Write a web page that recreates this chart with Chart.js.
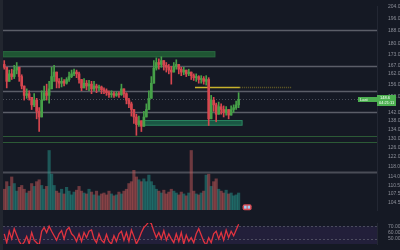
<!DOCTYPE html>
<html>
<head>
<meta charset="utf-8">
<script src="https://cdn.jsdelivr.net/npm/chart.js@4.4.0/dist/chart.umd.min.js"></script>
<style>
  html, body { margin: 0; padding: 0; background: #151924; width: 400px; height: 250px; overflow: hidden; }
  #priceChart { position: absolute; left: 0; top: 0; }
  #rsiChart { position: absolute; left: 0; top: 217px; }
  #strip { position: absolute; left: 0; top: 0; width: 3px; height: 250px; background: #22262f; }
</style>
</head>
<body>
<canvas id="priceChart" width="400" height="216"></canvas>
<canvas id="rsiChart" width="400" height="33"></canvas>
<div id="strip"></div>
<script>
// price data
var firstOpen = 167.4;
var closes = [165.8,158.0,162.1,160.6,164.2,165.8,160.6,155.5,150.6,151.5,
  149.6,145.8,148.2,142.6,139.9,148.2,152.0,150.6,154.0,160.6,
  163.1,158.0,157.0,158.0,157.0,159.0,160.6,162.1,163.1,162.1,
  159.0,154.5,157.0,155.5,156.5,154.0,155.5,154.5,155.0,153.5,
  153.0,152.0,151.0,151.5,150.6,151.5,151.0,154.0,151.5,148.2,
  146.3,143.5,139.9,136.3,138.1,135.5,139.9,143.5,149.1,157.0,
  165.3,168.5,167.4,169.6,166.9,165.8,164.2,163.1,166.3,167.4,
  164.7,163.1,164.2,162.1,163.1,161.1,160.0,160.6,159.0,159.5,
  158.0,159.0,139.0,148.2,145.8,141.2,144.9,143.5,142.1,143.5,
  140.8,143.5,144.4,145.8,148.6];
var highs = [169.6,164.2,164.2,164.7,166.9,168.5,164.2,161.6,155.5,154.0,
  153.0,149.1,151.5,149.1,144.4,153.0,155.5,156.5,158.0,165.8,
  166.9,163.1,159.5,160.0,159.0,160.0,163.1,164.2,164.7,164.2,
  163.1,159.0,159.5,158.5,158.5,158.0,158.0,156.5,156.0,155.5,
  154.5,154.0,153.0,153.0,152.5,152.5,152.5,156.5,154.0,152.0,
  149.1,147.2,143.5,141.2,140.3,138.1,142.6,146.3,153.0,160.6,
  169.6,171.2,170.7,171.8,169.6,168.5,167.4,166.3,168.5,170.1,
  167.4,165.8,165.8,164.2,164.7,163.1,162.1,162.1,161.1,161.1,
  160.6,161.1,160.0,150.6,149.6,146.7,147.2,146.3,145.3,144.9,
  143.5,145.3,145.8,147.7,152.0];
var lows = [164.7,154.5,158.0,159.0,159.5,162.1,158.0,154.0,148.2,149.1,
  148.2,143.5,144.9,139.0,133.1,143.5,149.1,148.2,146.7,155.5,
  158.0,154.5,154.5,155.0,155.5,156.5,158.0,160.0,161.1,160.0,
  157.0,153.0,154.5,153.5,153.0,151.5,153.0,152.0,153.0,151.5,
  151.5,150.6,149.6,149.6,149.6,150.1,149.6,150.6,149.6,146.3,
  144.4,140.3,136.8,131.4,135.5,133.1,136.3,139.9,143.5,152.0,
  160.6,164.2,164.7,165.8,164.2,163.1,162.1,156.5,163.1,164.7,
  162.1,161.1,161.6,160.6,161.1,159.0,158.5,158.0,157.0,157.0,
  156.5,156.0,135.9,143.5,142.6,137.6,142.1,141.2,139.9,140.8,
  139.0,141.2,142.1,143.5,144.4];
// volume in thousands
var volumes = [220,300,250,350,280,200,240,260,220,180,
  200,280,250,300,320,260,220,250,630,380,
  260,200,180,220,170,240,200,160,190,210,
  250,200,180,170,220,190,160,200,150,170,
  180,160,200,170,150,160,190,170,200,220,
  280,300,420,350,320,300,330,300,370,300,
  260,220,200,180,210,170,190,220,200,180,
  160,190,170,150,180,630,200,170,160,180,
  200,370,380,250,300,330,220,200,180,210,
  170,180,150,160,180];
var rsi = [58,44,62,50,66,56,46,40,45,54,
  42,60,48,44,40,62,68,60,70,62,
  55,48,58,63,50,64,68,58,54,46,
  58,46,60,52,62,64,50,44,58,48,
  44,57,46,42,55,46,58,62,48,60,
  46,64,54,42,50,60,68,72,77,74,
  62,52,60,50,63,48,58,50,44,58,
  46,60,42,56,46,52,44,58,66,56,
  46,40,52,44,58,62,50,60,48,64,
  52,62,55,64,73];
var priceTicks = [204, 196, 188, 180, 173, 167, 162, 156, 150, 142, 138, 134, 130, 126, 122, 118, 114, 110.5, 107.5, 104.5];
var rsiTicks = [70, 60, 50];
var slotCount = 150;

// drawn levels (price) and zones
var grayLevels = [188.0, 166.3, 153.0, 142.1];
var volLevel = 116.0;
var greenLevels = [131.3, 128.4];
var upperZone = [171.8, 174.9];
var lowerZone = [136.0, 138.2];
var yellowLevel = 155.0;

var labels = [];
for (var s = 0; s < slotCount; s++) labels.push(String(s));

var opens = [firstOpen].concat(closes.slice(0, -1));
var upColor = '#46a048', downColor = '#d6464f';
var candleColors = [], volColors = [], wickData = [], bodyData = [];
for (var i = 0; i < closes.length; i++) {
  var up = closes[i] >= opens[i];
  candleColors.push(up ? upColor : downColor);
  volColors.push(up ? 'rgba(38,150,140,0.5)' : 'rgba(200,90,90,0.5)');
  wickData.push([Math.min(lows[i], opens[i], closes[i]), Math.max(highs[i], opens[i], closes[i])]);
  bodyData.push([opens[i], closes[i]]);
}

var levelsPlugin = {
  id: 'levels',
  beforeDatasetsDraw: function (chart) {
    var ctx = chart.ctx, a = chart.chartArea, x = chart.scales.x, y = chart.scales.y;
    ctx.save();
    function hline(p, color, w, dash, x0, x1) {
      var py = Math.round(y.getPixelForValue(p)) + 0.5;
      ctx.strokeStyle = color; ctx.lineWidth = w; ctx.setLineDash(dash || []);
      ctx.beginPath(); ctx.moveTo(x0 == null ? a.left : x0, py); ctx.lineTo(x1 == null ? a.right : x1, py); ctx.stroke();
    }
    grayLevels.forEach(function (p) { hline(p, '#5b5e68', 1.3); });
    hline(volLevel, '#4a4d57', 2);
    greenLevels.forEach(function (p) { hline(p, '#2c5a36', 1); });
    hline(closes[closes.length - 1], 'rgba(110,113,125,0.6)', 1, [1, 2]);

    // zones
    function zone(z, s0, s1, fill, stroke) {
      var x0 = x.getPixelForValue(s0), x1 = x.getPixelForValue(s1);
      var y0 = y.getPixelForValue(z[1]), y1 = y.getPixelForValue(z[0]);
      ctx.setLineDash([]);
      ctx.fillStyle = fill; ctx.fillRect(x0, y0, x1 - x0, y1 - y0);
      ctx.strokeStyle = stroke; ctx.lineWidth = 1; ctx.strokeRect(x0, y0, x1 - x0, y1 - y0);
    }
    zone(upperZone, -0.5, 84.5, '#1f5533', '#2a6a40');
    zone(lowerZone, 55.6, 95.4, '#1a5744', '#2b8660');

    // yellow level
    hline(yellowLevel, '#c8b22c', 1.5, [], x.getPixelForValue(76.5), x.getPixelForValue(94.5));
    hline(yellowLevel, 'rgba(200,178,44,0.45)', 1.5, [1, 1], x.getPixelForValue(94.5), x.getPixelForValue(115.4));
    ctx.restore();
  },
  afterDraw: function (chart) {
    var ctx = chart.ctx, a = chart.chartArea, x = chart.scales.x, y = chart.scales.y, v = chart.scales.v;
    ctx.save();
    var last = closes[closes.length - 1];
    var py = Math.round(y.getPixelForValue(last));
    ctx.fillStyle = '#4caf50';
    ctx.fillRect(358, py - 2, a.right - 358, 5);
    ctx.fillRect(a.right, py - 4, 19, 11);
    ctx.fillStyle = '#ffffff';
    ctx.font = '4px "Liberation Sans"';
    ctx.textBaseline = 'middle';
    ctx.fillText('Last', 360, py + 0.5);
    ctx.fillText(last.toFixed(1), a.right + 3, py - 1);
    ctx.fillText('04:21:11', a.right + 2, py + 4);
    // volume marker
    var mx = x.getPixelForValue(95.6), my = v.getPixelForValue(30);
    ctx.fillStyle = '#d84a52';
    ctx.beginPath(); ctx.roundRect(mx, my - 3, 9, 6, 2); ctx.fill();
    ctx.fillStyle = '#9fd0f5';
    ctx.fillRect(mx + 1.5, my - 1.5, 2.5, 3);
    ctx.fillRect(mx + 5, my - 1.5, 2.5, 3);
    ctx.restore();
  }
};

new Chart(document.getElementById('priceChart'), {
  type: 'bar',
  data: {
    labels: labels,
    datasets: [
      { label: 'Body', data: bodyData, yAxisID: 'y', backgroundColor: candleColors, barThickness: 2, minBarLength: 1, grouped: false, order: 1 },
      { label: 'Wick', data: wickData, yAxisID: 'y', backgroundColor: candleColors, barThickness: 1, grouped: false, order: 2 },
      { label: 'Volume', data: volumes, yAxisID: 'v', backgroundColor: volColors, barThickness: 2.5, grouped: false, order: 3 }
    ]
  },
  options: {
    responsive: false,
    animation: false,
    devicePixelRatio: 1,
    layout: { padding: { left: 3, right: 0, top: 0, bottom: 0 } },
    plugins: { legend: { display: false }, tooltip: { enabled: false } },
    scales: {
      x: { type: 'category', display: false, offset: true, grid: { display: false } },
      y: {
        type: 'logarithmic', position: 'right', min: 101.8, max: 204.4,
        afterBuildTicks: function (s) { s.ticks = priceTicks.map(function (t) { return { value: t }; }); },
        afterFit: function (s) { s.width = 23; },
        grid: { display: false },
        border: { display: true, color: '#232733' },
        ticks: { autoSkip: false, color: '#8c8f99', padding: 3, font: { size: 5, family: 'Liberation Sans' },
          callback: function (t) { return Number(t).toFixed(1); } }
      },
      v: { type: 'linear', display: false, min: 0, max: 2160 }
    }
  },
  plugins: [levelsPlugin]
});

var rsiPlugin = {
  id: 'rsiBand',
  beforeDatasetsDraw: function (chart) {
    var ctx = chart.ctx, a = chart.chartArea, y = chart.scales.y;
    ctx.save();
    var y0 = y.getPixelForValue(70), y1 = Math.min(a.bottom, y.getPixelForValue(30));
    ctx.fillStyle = '#221f3a';
    ctx.fillRect(a.left, y0, a.right - a.left, y1 - y0);
    ctx.strokeStyle = 'rgba(120,123,134,0.5)';
    ctx.lineWidth = 1;
    ctx.setLineDash([2, 2]);
    [70, 50].forEach(function (p) {
      var py = Math.round(y.getPixelForValue(p)) + 0.5;
      ctx.beginPath(); ctx.moveTo(a.left, py); ctx.lineTo(a.right, py); ctx.stroke();
    });
    ctx.restore();
  }
};

new Chart(document.getElementById('rsiChart'), {
  type: 'line',
  data: {
    labels: labels,
    datasets: [{ label: 'RSI', data: rsi, borderColor: '#e0333f', borderWidth: 1.3, pointRadius: 0, tension: 0 }]
  },
  options: {
    responsive: false,
    animation: false,
    devicePixelRatio: 1,
    layout: { padding: { left: 3, right: 0, top: 0, bottom: 0 } },
    plugins: { legend: { display: false }, tooltip: { enabled: false } },
    scales: {
      x: { type: 'category', display: false, offset: true },
      y: {
        type: 'linear', position: 'right', min: 42, max: 75,
        afterBuildTicks: function (s) { s.ticks = rsiTicks.map(function (t) { return { value: t }; }); },
        afterFit: function (s) { s.width = 23; },
        grid: { display: false },
        border: { display: true, color: '#232733' },
        ticks: { autoSkip: false, color: '#8c8f99', padding: 3, font: { size: 5, family: 'Liberation Sans' },
          callback: function (t) { return Number(t).toFixed(2); } }
      }
    }
  },
  plugins: [rsiPlugin]
});
</script>
</body>
</html>
